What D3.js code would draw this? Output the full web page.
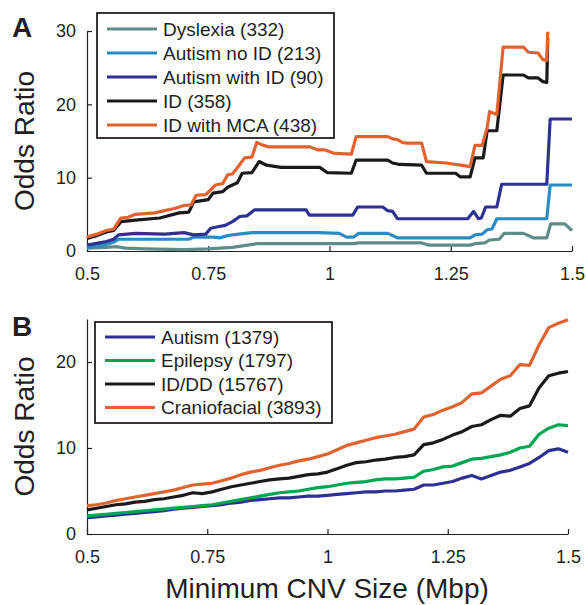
<!DOCTYPE html>
<html>
<head>
<meta charset="utf-8">
<script src="https://cdn.jsdelivr.net/npm/d3@7"></script>
<style>
  body { margin: 0; background: #fff; }
  text { font-family: "Liberation Sans", Arial, Helvetica, sans-serif; fill: #231f20; }
</style>
</head>
<body>
<svg id="chart"></svg>
<script>
// Panel A: odds ratio vs minimum CNV size, [size (Mbp), odds ratio] breakpoints
const dyslexiaA = [[0.5, 0.4], [0.54, 0.5], [0.56, 0.6], [0.58, 0.4], [0.62, 0.3], [0.70, 0.2], [0.75, 0.3],
  [0.80, 0.5], [0.85, 1.0], [1.05, 1.0], [1.06, 1.1], [1.19, 1.1], [1.205, 0.8], [1.29, 0.8], [1.30, 1.0],
  [1.32, 1.1], [1.33, 1.5], [1.35, 1.6], [1.36, 2.4], [1.40, 2.4], [1.42, 1.8], [1.448, 1.8], [1.456, 3.7],
  [1.485, 3.7], [1.5, 2.8]];
const autismNoIdA = [[0.5, 0.5], [0.54, 0.9], [0.555, 1.2], [0.565, 1.6], [0.71, 1.6], [0.72, 1.9], [0.76, 1.9],
  [0.775, 1.8], [0.79, 2.1], [0.80, 2.2], [0.84, 2.5], [0.98, 2.5], [1.02, 2.4], [1.035, 1.9], [1.05, 1.9],
  [1.06, 2.4], [1.12, 2.4], [1.14, 1.8], [1.29, 1.8], [1.30, 2.2], [1.315, 2.3], [1.325, 2.9], [1.335, 3.0],
  [1.345, 4.4], [1.448, 4.4], [1.455, 9.0], [1.5, 9.0]];
const autismWithIdA = [[0.5, 0.8], [0.54, 1.3], [0.555, 1.6], [0.565, 2.2], [0.60, 2.4], [0.66, 2.3], [0.70, 2.5],
  [0.72, 2.2], [0.745, 2.3], [0.755, 3.1], [0.77, 3.3], [0.785, 3.5], [0.80, 4.0], [0.815, 4.7], [0.83, 4.8],
  [0.845, 5.6], [0.952, 5.6], [0.958, 4.9], [1.048, 4.9], [1.058, 6.0], [1.11, 6.0], [1.12, 5.5], [1.13, 5.4],
  [1.14, 4.4], [1.285, 4.4], [1.297, 5.4], [1.307, 4.4], [1.313, 4.5], [1.322, 6.0], [1.345, 6.0],
  [1.355, 9.1], [1.448, 9.1], [1.455, 18.0], [1.5, 18.0]];
const idA = [[0.5, 1.7], [0.52, 2.1], [0.54, 2.6], [0.555, 2.8], [0.57, 4.0], [0.60, 4.2], [0.65, 4.5],
  [0.69, 5.2], [0.71, 5.3], [0.72, 6.7], [0.75, 7.0], [0.76, 7.9], [0.78, 8.1], [0.79, 8.7], [0.81, 9.3],
  [0.82, 10.6], [0.84, 10.7], [0.855, 12.2], [0.87, 11.7], [0.90, 11.4], [0.98, 11.4], [0.995, 10.7],
  [1.045, 10.6], [1.055, 12.4], [1.12, 12.4], [1.13, 12.0], [1.145, 11.8], [1.19, 11.7], [1.20, 10.6],
  [1.26, 10.6], [1.27, 10.1], [1.29, 10.1], [1.30, 12.7], [1.317, 12.7], [1.325, 16.4], [1.345, 16.4],
  [1.358, 24.0], [1.40, 24.0], [1.41, 23.6], [1.43, 23.6], [1.44, 23.1], [1.448, 23.0], [1.45, 29.0]];
const idMcaA = [[0.5, 1.9], [0.52, 2.3], [0.54, 2.8], [0.555, 3.0], [0.57, 4.5], [0.585, 4.6], [0.60, 5.0],
  [0.62, 5.1], [0.64, 5.2], [0.66, 5.5], [0.68, 5.8], [0.70, 6.2], [0.715, 6.3], [0.725, 7.6], [0.745, 7.7],
  [0.765, 9.0], [0.78, 9.2], [0.79, 10.4], [0.80, 10.5], [0.815, 11.8], [0.825, 12.7], [0.84, 12.8],
  [0.85, 14.8], [0.86, 14.5], [0.875, 14.2], [0.96, 14.2], [0.975, 13.8], [0.99, 13.8], [1.01, 13.3],
  [1.045, 13.2], [1.055, 15.6], [1.12, 15.6], [1.13, 15.3], [1.14, 15.2], [1.15, 14.8], [1.16, 14.7],
  [1.19, 14.7], [1.20, 12.2], [1.24, 12.0], [1.27, 11.7], [1.29, 11.5], [1.30, 14.4], [1.315, 14.4],
  [1.325, 16.8], [1.33, 19.0], [1.345, 18.6], [1.358, 27.8], [1.40, 27.8], [1.41, 27.1], [1.43, 27.0],
  [1.44, 26.1], [1.448, 26.0], [1.45, 29.9]];

const labelsA = ['Dyslexia (332)', 'Autism no ID (213)', 'Autism with ID (90)', 'ID (358)', 'ID with MCA (438)'];
const colorsA = ['#5f8b88', '#2b8cc2', '#2e3192', '#1a1a1a', '#e0622f'];

// Panel B: shared size grid and one odds ratio per size
const sizesB = [0.50, 0.52, 0.54, 0.56, 0.58, 0.60, 0.62, 0.64, 0.66, 0.68, 0.70, 0.72, 0.74, 0.76, 0.78,
  0.80, 0.82, 0.84, 0.86, 0.88, 0.90, 0.92, 0.94, 0.96, 0.98, 1.00, 1.02, 1.04, 1.06, 1.08, 1.10, 1.12,
  1.14, 1.16, 1.18, 1.20, 1.22, 1.24, 1.26, 1.28, 1.30, 1.32, 1.34, 1.36, 1.38, 1.40, 1.42, 1.44, 1.46,
  1.48, 1.50];
const autismB = [1.9, 2.0, 2.1, 2.2, 2.3, 2.4, 2.5, 2.6, 2.7, 2.9, 3.0, 3.1, 3.2, 3.3, 3.4, 3.6, 3.7, 3.9,
  4.0, 4.1, 4.2, 4.2, 4.3, 4.4, 4.4, 4.5, 4.6, 4.7, 4.8, 4.9, 4.9, 5.0, 5.0, 5.1, 5.2, 5.7, 5.7, 5.9, 6.1,
  6.5, 6.8, 6.4, 6.8, 7.2, 7.4, 7.8, 8.2, 8.9, 9.7, 9.9, 9.5];
const epilepsyB = [2.1, 2.2, 2.3, 2.4, 2.5, 2.6, 2.7, 2.8, 2.9, 3.0, 3.1, 3.2, 3.3, 3.4, 3.6, 3.8, 4.0, 4.2,
  4.4, 4.6, 4.8, 4.9, 5.0, 5.2, 5.4, 5.5, 5.7, 5.9, 6.0, 6.1, 6.3, 6.4, 6.4, 6.5, 6.6, 7.3, 7.5, 7.8, 7.9,
  8.3, 8.7, 8.8, 9.0, 9.2, 9.5, 10.0, 10.2, 11.6, 12.3, 12.7, 12.6];
const idddB = [2.8, 3.0, 3.2, 3.4, 3.5, 3.7, 3.8, 4.0, 4.1, 4.3, 4.5, 4.8, 4.7, 4.9, 5.2, 5.5, 5.7, 5.9,
  6.1, 6.3, 6.4, 6.5, 6.7, 6.9, 7.0, 7.2, 7.6, 8.0, 8.3, 8.4, 8.6, 8.7, 8.9, 9.0, 9.2, 10.4, 10.6, 11.0,
  11.5, 11.9, 12.5, 12.7, 13.3, 13.8, 13.7, 14.6, 14.9, 17.0, 18.4, 18.7, 18.9];
const craniofacialB = [3.3, 3.4, 3.6, 3.9, 4.1, 4.3, 4.5, 4.7, 4.9, 5.1, 5.4, 5.7, 5.8, 5.9, 6.2, 6.5, 6.9,
  7.2, 7.4, 7.7, 8.0, 8.2, 8.5, 8.7, 9.0, 9.3, 9.8, 10.3, 10.6, 10.9, 11.2, 11.4, 11.6, 11.9, 12.2, 13.6,
  13.9, 14.4, 14.8, 15.3, 16.3, 16.4, 17.2, 18.0, 18.4, 19.7, 19.6, 22.0, 24.0, 24.5, 24.9];

const labelsB = ['Autism (1379)', 'Epilepsy (1797)', 'ID/DD (15767)', 'Craniofacial (3893)'];
const colorsB = ['#2e3192', '#00a651', '#1a1a1a', '#e0622f'];

const xTicks = [0.5, 0.75, 1, 1.25, 1.5];
const xTickLabels = ['0.5', '0.75', '1', '1.25', '1.5'];
const yTicksA = [0, 10, 20, 30];
const yTicksB = [0, 10, 20];

const width = 586;
const height = 605;

const svg = d3.select('#chart')
  .attr('width', width)
  .attr('height', height);

// Draws one panel: axes, lines, legend. Layout passed in as plain numbers.
function drawPanel(p) {
  const x = d3.scaleLinear().domain([0.5, 1.5]).range([p.left, p.right]);
  const y = d3.scaleLinear().domain([0, p.yMax]).range([p.bottom, p.top]);

  const xAxis = svg.append('g')
    .attr('transform', `translate(0, ${p.bottom})`)
    .call(d3.axisBottom(x)
      .tickValues(xTicks)
      .tickFormat((d, i) => xTickLabels[i])
      .tickSize(-5)
      .tickSizeOuter(0)
      .tickPadding(16));

  const yAxis = svg.append('g')
    .attr('transform', `translate(${p.left}, 0)`)
    .call(d3.axisLeft(y)
      .tickValues(p.yTicks)
      .tickSize(-5)
      .tickSizeOuter(0)
      .tickPadding(11));

  [xAxis, yAxis].forEach(a => {
    a.selectAll('path, line').attr('stroke', '#231f20').attr('stroke-width', 1.2);
    a.selectAll('text').attr('font-size', 18).attr('fill', '#231f20')
      .style('font-family', '"Liberation Sans", Arial, sans-serif');
  });

  const line = d3.line()
    .x(d => x(d[0]))
    .y(d => y(d[1]));

  svg.append('g')
    .selectAll('path')
    .data(p.series)
    .join('path')
    .attr('d', line)
    .attr('fill', 'none')
    .attr('stroke', (d, i) => p.colors[i])
    .attr('stroke-width', 3.2)
    .attr('stroke-linejoin', 'round');

  // y title
  svg.append('text')
    .attr('transform', `translate(34, ${(p.top + p.bottom) / 2}) rotate(-90)`)
    .attr('text-anchor', 'middle')
    .attr('font-size', 28)
    .text('Odds Ratio');

  // panel letter
  svg.append('text')
    .attr('x', 12)
    .attr('y', p.letterY)
    .attr('font-size', 28)
    .attr('font-weight', 'bold')
    .text(p.letter);

  // legend
  const lg = p.legend;
  const legend = svg.append('g');
  legend.append('rect')
    .attr('x', lg.x)
    .attr('y', lg.y)
    .attr('width', lg.w)
    .attr('height', lg.h)
    .attr('fill', '#fff')
    .attr('stroke', '#231f20')
    .attr('stroke-width', 1.8);

  const rows = legend.selectAll('g.row')
    .data(p.labels)
    .join('g')
    .attr('class', 'row')
    .attr('transform', (d, i) => `translate(0, ${lg.firstRow + i * lg.step})`);

  rows.append('line')
    .attr('x1', lg.x + 10)
    .attr('x2', lg.x + 60)
    .attr('stroke', (d, i) => p.colors[i])
    .attr('stroke-width', 3.2);

  rows.append('text')
    .attr('x', lg.x + 66)
    .attr('dy', '0.35em')
    .attr('font-size', 19)
    .text(d => d);
}

drawPanel({
  letter: 'A', letterY: 37,
  left: 87, right: 572, top: 31, bottom: 251, yMax: 30, yTicks: yTicksA,
  series: [dyslexiaA, autismNoIdA, autismWithIdA, idA, idMcaA],
  labels: labelsA, colors: colorsA,
  legend: { x: 97, y: 13, w: 237, h: 125, firstRow: 29, step: 24 }
});

drawPanel({
  letter: 'B', letterY: 336,
  left: 87, right: 568, top: 319, bottom: 534, yMax: 25, yTicks: yTicksB,
  series: [autismB, epilepsyB, idddB, craniofacialB].map(vals => vals.map((v, i) => [sizesB[i], v])),
  labels: labelsB, colors: colorsB,
  legend: { x: 95, y: 322, w: 237, h: 101, firstRow: 337, step: 23.5 }
});

svg.append('text')
  .attr('x', 327)
  .attr('y', 598)
  .attr('text-anchor', 'middle')
  .attr('font-size', 28)
  .text('Minimum CNV Size (Mbp)');
</script>
</body>
</html>
